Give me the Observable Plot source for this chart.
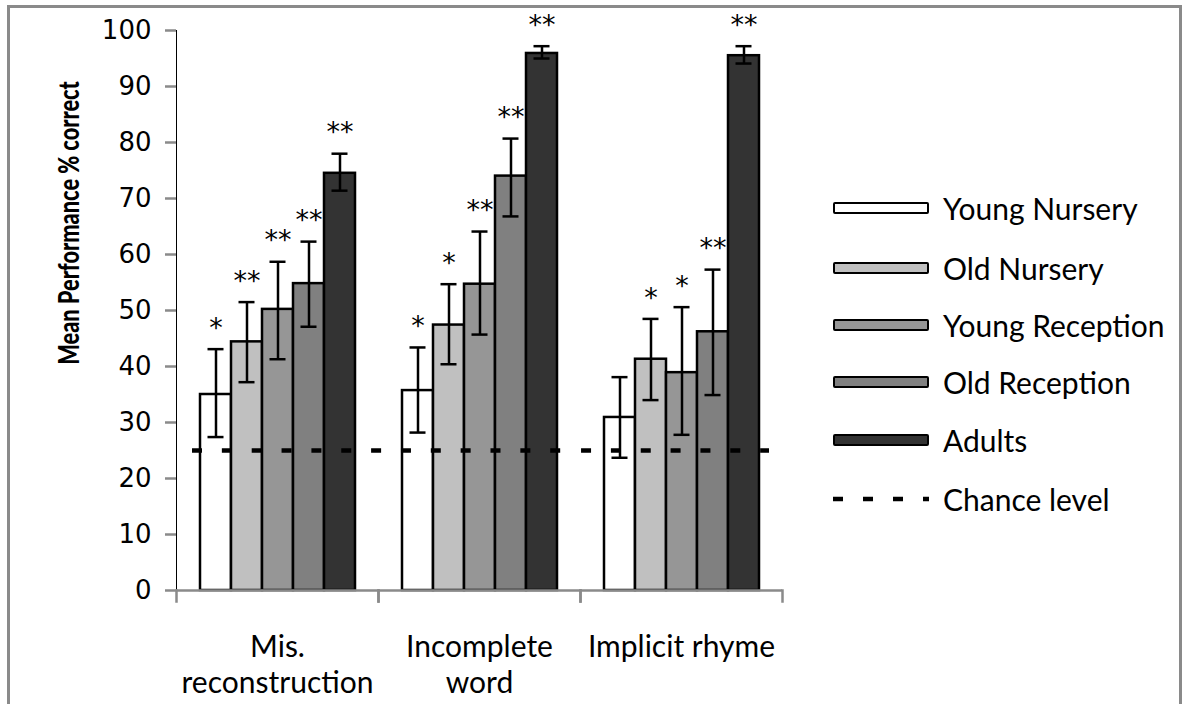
<!DOCTYPE html>
<html>
<head>
<meta charset="utf-8">
<script src="https://cdn.jsdelivr.net/npm/d3@7"></script>
<script src="https://cdn.jsdelivr.net/npm/@observablehq/plot@0.6"></script>
<style>
  body { margin: 0; background: #fff; }
  #wrap { position: relative; width: 1185px; height: 704px; overflow: hidden; background: #fff; }
  #border { position: absolute; left: 7px; top: 5px; width: 1175px; height: 740px; border: 3px solid #8a8a8a; box-sizing: border-box; }
  #chart { position: absolute; left: 0; top: 0; }
  #chart svg g[aria-label^="y-axis"] path, #chart svg g[aria-label^="y-axis"] line { stroke: #8a8a8a; stroke-width: 2.5px; }
  .legrow { position: absolute; left: 833px; height: 40px; display: flex; align-items: center; font-family: Lato, "Open Sans", sans-serif; font-size: 30px; color: #000; }
  .sw { width: 96px; height: 12px; border: 2px solid #000; border-radius: 2px; box-sizing: border-box; margin-right: 14px; }
  .dash { width: 96px; height: 12px; margin-right: 14px; }
  #ytitle { position: absolute; left: 67px; top: 223px; transform: translate(-50%, -50%) rotate(-90deg) scaleX(0.75); white-space: nowrap; font-family: Lato, sans-serif; font-weight: 900; font-size: 29px; }
</style>
</head>
<body>
<div id="wrap">
  <div id="chart"></div>
  <div id="border"></div>
  <div id="ytitle"></div>
  <div id="legend"></div>
</div>
<script>
// ---- data ----
const categories = ["Mis. reconstruction", "Incomplete word", "Implicit rhyme"];
const categoryLabels = ["Mis.\nreconstruction", "Incomplete\nword", "Implicit rhyme"];
const groups = ["Young Nursery", "Old Nursery", "Young Reception", "Old Reception", "Adults"];
const groupFills = ["#ffffff", "#c0c0c0", "#969696", "#808080", "#333333"];

const misMeans = [35.0, 44.4, 50.2, 54.8, 74.5];
const misLow   = [27.4, 37.2, 41.3, 47.1, 71.4];
const misHigh  = [43.1, 51.5, 58.7, 62.3, 78.0];
const misStars = ["*", "**", "**", "**", "**"];

const incMeans = [35.7, 47.4, 54.7, 74.0, 95.9];
const incLow   = [28.2, 40.4, 45.7, 66.8, 95.0];
const incHigh  = [43.4, 54.7, 64.1, 80.7, 97.2];
const incStars = ["*", "*", "**", "**", "**"];

const rhyMeans = [30.9, 41.3, 38.9, 46.2, 95.5];
const rhyLow   = [23.7, 34.0, 27.8, 34.9, 94.1];
const rhyHigh  = [38.1, 48.5, 50.6, 57.3, 97.2];
const rhyStars = ["", "*", "*", "**", "**"];

const chanceLevel = 25;
const chanceLabel = "Chance level";
const yTicks = [0, 10, 20, 30, 40, 50, 60, 70, 80, 90, 100];
const yTitle = "Mean Performance % correct";

// ---- table ----
const meansBy = [misMeans, incMeans, rhyMeans];
const lowBy = [misLow, incLow, rhyLow];
const highBy = [misHigh, incHigh, rhyHigh];
const starsBy = [misStars, incStars, rhyStars];
const rows = [];
categories.forEach((c, ci) => groups.forEach((g, gi) => rows.push({
  cat: c, group: g, mean: meansBy[ci][gi], lo: lowBy[ci][gi], hi: highBy[ci][gi], star: starsBy[ci][gi]
})));
const catRows = categories.map((c, i) => ({cat: c, label: categoryLabels[i], v: chanceLevel}));

const W = 1185, H = 704, mT = 30, mB = 114;
const chanceStyle = {y: "v", fx: "cat", stroke: "#000", strokeWidth: 4.5, strokeDasharray: "10,19.85"};

const plot = Plot.plot({
  width: W, height: H,
  marginLeft: 175, marginRight: 403, marginTop: mT, marginBottom: mB,
  style: {background: "transparent", color: "#000", overflow: "visible"},
  fx: {domain: categories, padding: 0, axis: null},
  x: {domain: groups, paddingInner: 0, paddingOuter: 0.74, axis: null},
  y: {domain: [0, 100], ticks: yTicks, tickSize: 11, tickPadding: 14, line: true, label: null},
  color: {domain: groups, range: groupFills},
  marks: [
    Plot.barY(rows, {fx: "cat", x: "group", y: "mean", fill: "group", stroke: "#000", strokeWidth: 2.5}),
    Plot.ruleY([0], {stroke: "#8a8a8a", strokeWidth: 2.5}),
    Plot.frame({anchor: "left", stroke: "#8a8a8a", strokeWidth: 2.5, insetTop: H - mT - mB, insetBottom: -11}),
    Plot.frame({anchor: "right", stroke: "#8a8a8a", strokeWidth: 2.5, insetTop: H - mT - mB, insetBottom: -11}),
    Plot.ruleY(catRows.slice(0, 1), {...chanceStyle, insetLeft: 16}),
    Plot.ruleY(catRows.slice(1, 2), {...chanceStyle, strokeDashoffset: 6.9}),
    Plot.ruleY(catRows.slice(2, 3), {...chanceStyle, strokeDashoffset: 28.8, insetRight: 13}),
    Plot.ruleX(rows, {fx: "cat", x: "group", y1: "lo", y2: "hi", stroke: "#000", strokeWidth: 2.5}),
    Plot.tickY(rows, {fx: "cat", x: "group", y: "hi", stroke: "#000", strokeWidth: 2.5, insetLeft: 7.5, insetRight: 7.5}),
    Plot.tickY(rows, {fx: "cat", x: "group", y: "lo", stroke: "#000", strokeWidth: 2.5, insetLeft: 7.5, insetRight: 7.5}),
    Plot.text(rows, {fx: "cat", x: "group", y: "hi", text: "star", dy: -21, fontSize: 27, fontFamily: "DejaVu Sans", fill: "#000"}),
    Plot.text(catRows, {fx: "cat", text: "label", frameAnchor: "bottom", lineAnchor: "top", dy: 41, lineHeight: 1.2, fontSize: 30, fontFamily: "Lato, sans-serif", fill: "#000"})
  ]
});
plot.querySelectorAll('g[aria-label="y-axis tick label"] text, g[aria-label="y-axis tick label"]').forEach(n => {
  n.setAttribute("font-size", "26"); n.setAttribute("font-family", "DejaVu Sans");
});
document.getElementById("chart").appendChild(plot);

// y title
document.getElementById("ytitle").textContent = yTitle;

// legend
const legend = document.getElementById("legend");
const rowY = [208, 268, 325, 382, 440, 499];
groups.forEach((g, i) => {
  const r = document.createElement("div");
  r.className = "legrow";
  r.style.top = (rowY[i] - 20) + "px";
  const s = document.createElement("div");
  s.className = "sw"; s.style.background = groupFills[i];
  r.appendChild(s);
  r.appendChild(document.createTextNode(g));
  legend.appendChild(r);
});
const cr = document.createElement("div");
cr.className = "legrow";
cr.style.top = (rowY[5] - 20) + "px";
cr.innerHTML = '<svg class="dash" width="96" height="12"><line x1="0" x2="96" y1="6" y2="6" stroke="#000" stroke-width="4.5" stroke-dasharray="10,20"/></svg>';
cr.appendChild(document.createTextNode(chanceLabel));
legend.appendChild(cr);
</script>
</body>
</html>
